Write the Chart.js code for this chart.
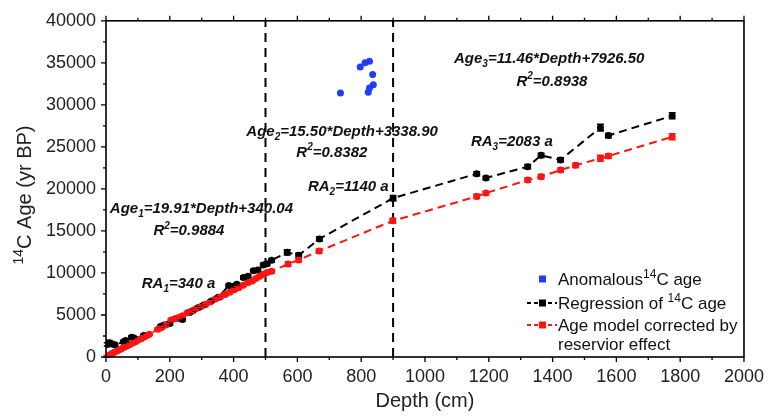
<!DOCTYPE html>
<html>
<head>
<meta charset="utf-8">
<script src="https://cdn.jsdelivr.net/npm/chart.js@4.4.0/dist/chart.umd.min.js"></script>
<style>
  html, body { margin: 0; padding: 0; background: #fff; }
</style>
</head>
<body>
<canvas id="chart" width="773" height="416"></canvas>
<script>
// 14C ages (yr BP) against depth (cm)
const blackDepth = [4, 10, 18, 28, 55, 62, 80, 88, 118, 172, 182, 200, 226, 240, 262, 272, 290, 306, 330, 352, 385, 396, 410, 431, 445, 462, 476, 493, 505, 519, 568, 604, 669, 900, 1162, 1191, 1322, 1364, 1425, 1550, 1575, 1775];
const blackAge = [1500, 1700, 1550, 1450, 1800, 1950, 2350, 2250, 2550, 3650, 3800, 4000, 4600, 4450, 5300, 5500, 5900, 6200, 6650, 7100, 8500, 8400, 8650, 9450, 9600, 10250, 10350, 10950, 11100, 11500, 12450, 12100, 14050, 18900, 21800, 21300, 22650, 24000, 23450, 27300, 26350, 28700];
const blackErr = [200, 250, 200, 150, 150, 200, 150, 150, 150, 150, 150, 200, 150, 150, 150, 150, 150, 150, 150, 150, 150, 150, 150, 200, 150, 200, 150, 200, 200, 200, 300, 250, 250, 300, 250, 200, 250, 250, 250, 400, 250, 350];

const redDepth = [3, 10, 18, 26, 34, 42, 50, 58, 66, 75, 84, 92, 100, 110, 120, 128, 136, 163, 174, 188, 204, 216, 228, 240, 255, 268, 282, 298, 312, 326, 343, 358, 374, 388, 402, 416, 430, 446, 458, 470, 482, 494, 505, 519, 571, 604, 668, 899, 1162, 1191, 1322, 1364, 1425, 1472, 1550, 1575, 1775];
const redAge = [80, 250, 380, 560, 700, 850, 1000, 1180, 1320, 1500, 1680, 1820, 1980, 2180, 2380, 2550, 2720, 3300, 3500, 3800, 4400, 4550, 4700, 4900, 5250, 5450, 5750, 6000, 6250, 6550, 6900, 7150, 7450, 7700, 8000, 8250, 8550, 8850, 9050, 9350, 9600, 9850, 10050, 10200, 11050, 11550, 12600, 16200, 19100, 19500, 21050, 21450, 22250, 22800, 23650, 23900, 26200];
const redErr = [100, 100, 100, 100, 100, 100, 100, 100, 100, 100, 100, 100, 100, 100, 100, 100, 100, 150, 150, 150, 150, 150, 150, 150, 150, 150, 150, 150, 150, 150, 150, 150, 150, 150, 150, 150, 150, 150, 150, 150, 150, 150, 200, 200, 250, 250, 250, 300, 250, 200, 250, 250, 250, 250, 350, 250, 350];

const blueDepth = [735, 797, 812, 826, 836, 826, 838, 822];
const blueAge = [31400, 34500, 35000, 35200, 33600, 32000, 32400, 31500];

// boundaries between the three regression segments
const boundaryDepth = [500, 900];

const xTicks = [0, 200, 400, 600, 800, 1000, 1200, 1400, 1600, 1800, 2000];
const yTicks = [0, 5000, 10000, 15000, 20000, 25000, 30000, 35000, 40000];

const RED = '#ff1414';
const BLUE = '#1f3cff';
const SANS = '"Liberation Sans", Arial, sans-serif';

// annotation texts, anchored in data coordinates (depth, age)
const notes = [
  { x: 1091, y: 35560, align: 'left', parts: [['Age'], ['3', 'sub'], ['=11.46*Depth+7926.50']] },
  { x: 1398, y: 32870, align: 'center', parts: [['R'], ['2', 'sup'], ['=0.8938']] },
  { x: 440, y: 26900, align: 'left', parts: [['Age'], ['2', 'sub'], ['=15.50*Depth+3338.90']] },
  { x: 708, y: 24440, align: 'center', parts: [['R'], ['2', 'sup'], ['=0.8382']] },
  { x: 12, y: 17780, align: 'left', parts: [['Age'], ['1', 'sub'], ['=19.91*Depth+340.04']] },
  { x: 260, y: 15090, align: 'center', parts: [['R'], ['2', 'sup'], ['=0.9884']] },
  { x: 112, y: 8770, align: 'left', parts: [['RA'], ['1', 'sub'], ['=340 a']] },
  { x: 633, y: 20350, align: 'left', parts: [['RA'], ['2', 'sub'], ['=1140 a']] },
  { x: 1144, y: 25730, align: 'left', parts: [['RA'], ['3', 'sub'], ['=2083 a']] },
];

const pts = (xs, ys) => xs.map((x, i) => ({ x: x, y: ys[i] }));

// draws text made of normal / subscript / superscript pieces
function drawRich(ctx, parts, x, y, size, style, align) {
  const fontFor = (kind) => style + ' ' + (kind ? Math.round(size * 0.68) : size) + 'px ' + SANS;
  let w = 0;
  parts.forEach(p => { ctx.font = fontFor(p[1]); w += ctx.measureText(p[0]).width; });
  let cx = align === 'center' ? x - w / 2 : x;
  ctx.textAlign = 'left';
  ctx.textBaseline = 'alphabetic';
  parts.forEach(p => {
    ctx.font = fontFor(p[1]);
    let dy = 0;
    if (p[1] === 'sub') dy = size * 0.28;
    if (p[1] === 'sup') dy = -size * 0.42;
    ctx.fillText(p[0], cx, y + dy);
    cx += ctx.measureText(p[0]).width;
  });
}

const decor = {
  id: 'decor',
  afterDatasetsDraw(chart) {
    const ctx = chart.ctx;
    const xs = chart.scales.x, ys = chart.scales.y;

    // error bars
    ctx.save();
    ctx.lineWidth = 1.5;
    [[blackDepth, blackAge, blackErr, '#000'], [redDepth, redAge, redErr, RED]].forEach(s => {
      ctx.strokeStyle = s[3];
      s[0].forEach((d, i) => {
        const px = xs.getPixelForValue(d);
        const top = ys.getPixelForValue(s[1][i] + s[2][i]);
        const bot = ys.getPixelForValue(s[1][i] - s[2][i]);
        ctx.beginPath();
        ctx.moveTo(px, top); ctx.lineTo(px, bot);
        ctx.moveTo(px - 3.5, top); ctx.lineTo(px + 3.5, top);
        ctx.moveTo(px - 3.5, bot); ctx.lineTo(px + 3.5, bot);
        ctx.stroke();
      });
    });
    ctx.restore();
  },
  afterDraw(chart) {
    const ctx = chart.ctx;
    const xs = chart.scales.x, ys = chart.scales.y;
    const a = chart.chartArea;
    ctx.save();

    // frame
    ctx.strokeStyle = '#000';
    ctx.lineWidth = 1.6;
    ctx.strokeRect(a.left, a.top, a.right - a.left, a.bottom - a.top);

    // major / minor tick marks
    ctx.lineWidth = 1.3;
    ctx.beginPath();
    for (let v = 0; v <= 2000; v += 100) {
      const px = xs.getPixelForValue(v);
      const len = v % 200 === 0 ? 5 : 3;
      ctx.moveTo(px, a.bottom); ctx.lineTo(px, a.bottom + len);
      ctx.moveTo(px, a.top); ctx.lineTo(px, a.top - len);
    }
    for (let v = 0; v <= 40000; v += 2500) {
      const py = ys.getPixelForValue(v);
      const len = v % 5000 === 0 ? 5 : 3;
      ctx.moveTo(a.left, py); ctx.lineTo(a.left - len, py);
    }
    ctx.stroke();

    // annotations
    ctx.fillStyle = '#111';
    notes.forEach(n => {
      drawRich(ctx, n.parts, xs.getPixelForValue(n.x), ys.getPixelForValue(n.y) + 5, 15, 'italic bold', n.align);
    });

    // axis titles
    ctx.fillStyle = '#222';
    drawRich(ctx, [['Depth (cm)']], (a.left + a.right) / 2, 407, 20, 'normal', 'center');
    ctx.save();
    ctx.translate(31, 195);
    ctx.rotate(-Math.PI / 2);
    drawRich(ctx, [['14', 'sup'], ['C Age (yr BP)']], 0, 0, 20, 'normal', 'center');
    ctx.restore();

    // legend
    const lx = 527, lt = 279, fs = 17;
    ctx.fillStyle = BLUE;
    ctx.fillRect(lx + 12, lt - 3.5, 7, 7);
    [['#000', lt + 24], [RED, lt + 46]].forEach(it => {
      ctx.strokeStyle = it[0];
      ctx.fillStyle = it[0];
      ctx.lineWidth = 2;
      ctx.setLineDash([4, 3]);
      ctx.beginPath();
      ctx.moveTo(lx, it[1]); ctx.lineTo(lx + 30, it[1]);
      ctx.stroke();
      ctx.setLineDash([]);
      ctx.fillRect(lx + 12, it[1] - 3.5, 7, 7);
    });
    ctx.fillStyle = '#111';
    const tx = lx + 31;
    drawRich(ctx, [['Anomalous'], ['14', 'sup'], ['C age']], tx, lt + 6, fs, 'normal', 'left');
    drawRich(ctx, [['Regression of '], ['14', 'sup'], ['C age']], tx, lt + 30, fs, 'normal', 'left');
    drawRich(ctx, [['Age model corrected by']], tx, lt + 52, fs, 'normal', 'left');
    drawRich(ctx, [['reservior effect']], tx, lt + 71, fs, 'normal', 'left');

    ctx.restore();
  }
};

const lineSeries = (label, xs, ys, color, order) => ({
  label: label,
  data: pts(xs, ys),
  showLine: true,
  borderColor: color,
  borderWidth: 2,
  borderDash: [8, 5],
  pointRadius: 3.5,
  pointBackgroundColor: color,
  pointBorderWidth: 0,
  order: order,
});

const config = {
  type: 'scatter',
  data: {
    datasets: [
      lineSeries('Age model corrected by reservior effect', redDepth, redAge, RED, 0),
      lineSeries('Regression of 14C age', blackDepth, blackAge, '#000', 1),
      {
        label: 'Anomalous 14C age',
        data: pts(blueDepth, blueAge),
        pointRadius: 3.5,
        pointBackgroundColor: BLUE,
        pointBorderWidth: 0,
        order: 2,
      },
      // vertical dashed segment boundaries
      ...boundaryDepth.map(d => ({
        label: 'boundary ' + d,
        data: [{ x: d, y: 0 }, { x: d, y: 40000 }],
        showLine: true,
        borderColor: '#000',
        borderWidth: 2,
        borderDash: [9, 6],
        pointRadius: 0,
        order: 3,
      })),
    ],
  },
  options: {
    responsive: false,
    animation: false,
    layout: { padding: { top: 15, right: 22, left: 0, bottom: 0 } },
    plugins: {
      legend: { display: false },
      tooltip: { enabled: false },
    },
    scales: {
      x: {
        type: 'linear',
        min: 0,
        max: 2000,
        afterBuildTicks: s => { s.ticks = xTicks.map(v => ({ value: v })); },
        afterFit: s => { s.height = 59; },
        grid: { display: false, drawTicks: false },
        border: { display: false },
        ticks: { color: '#222', padding: 9, maxRotation: 0, callback: v => String(v), font: { family: SANS, size: 18 } },
      },
      y: {
        type: 'linear',
        min: 0,
        max: 40000,
        afterBuildTicks: s => { s.ticks = yTicks.map(v => ({ value: v })); },
        afterFit: s => { s.width = 106; },
        grid: { display: false, drawTicks: false },
        border: { display: false },
        ticks: { color: '#222', padding: 10, callback: v => String(v), font: { family: SANS, size: 18 } },
      },
    },
  },
  plugins: [decor],
};

const myChart = new Chart(document.getElementById('chart'), config);
</script>
</body>
</html>
